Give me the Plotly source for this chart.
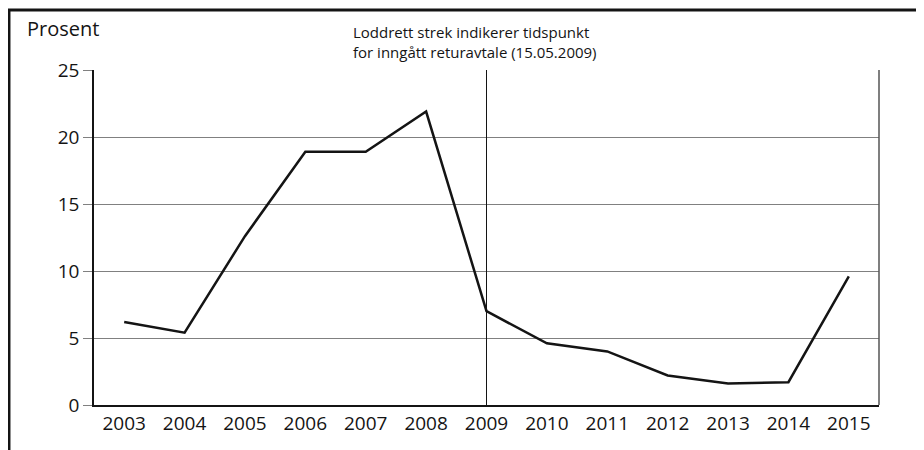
import plotly.graph_objects as go

years = [2003, 2004, 2005, 2006, 2007, 2008, 2009, 2010, 2011, 2012, 2013, 2014, 2015]
prosent = [6.2, 5.4, 12.6, 18.9, 18.9, 21.9, 7.0, 4.6, 4.0, 2.2, 1.6, 1.7, 9.6]
y_ticks = [0, 5, 10, 15, 20, 25]
avtale_aar = 2009

font = "Open Sans"
ink = "#141414"

fig = go.Figure()
fig.add_trace(go.Scatter(x=years, y=prosent, mode="lines",
                         line=dict(color=ink, width=2.5), showlegend=False))

# vertical line for the return agreement
fig.add_shape(type="line", xref="x", yref="y", x0=avtale_aar, x1=avtale_aar,
              y0=0, y1=25, line=dict(color=ink, width=1))

# outer frame (top and left edges)
fig.add_shape(type="line", xref="paper", yref="paper", x0=-0.11, x1=1.1,
              y0=1.179, y1=1.179, line=dict(color=ink, width=3))
fig.add_shape(type="line", xref="paper", yref="paper", x0=-0.108, x1=-0.108,
              y0=1.179, y1=-0.2, line=dict(color=ink, width=2.5))

fig.add_annotation(text="Prosent", xref="paper", yref="paper", x=-0.0885, y=1.125,
                   xanchor="left", yanchor="middle", showarrow=False,
                   font=dict(size=20, color=ink, family=font))
fig.add_annotation(text="Loddrett strek indikerer tidspunkt<br>for inngått returavtale (15.05.2009)",
                   xref="paper", yref="paper", x=0.327, y=1.0836, xanchor="left",
                   yanchor="middle", align="left", showarrow=False,
                   font=dict(size=15, color=ink, family=font))

fig.update_xaxes(range=[2002.5, 2015.5], tickvals=years, showgrid=False,
                 showline=True, linecolor=ink, linewidth=1.5, mirror=False,
                 ticks="", tickfont=dict(size=19, color=ink, family=font))
fig.update_yaxes(range=[0, 25], tickvals=y_ticks, showgrid=True, gridcolor="#808080",
                 gridwidth=1, showline=True, linecolor=ink, linewidth=1.5,
                 ticks="outside", ticklen=9, tickcolor="#808080", zeroline=False,
                 tickfont=dict(size=19, color=ink, family=font))

# right edge of plot area
fig.add_shape(type="line", xref="paper", yref="paper", x0=1, x1=1, y0=0, y1=1,
              line=dict(color="#555555", width=1.5))

fig.update_layout(width=924, height=450, plot_bgcolor="white", paper_bgcolor="white",
                  margin=dict(l=86, r=53, t=62, b=53),
                  font=dict(family=font, color=ink))

fig.write_html("out.html")
